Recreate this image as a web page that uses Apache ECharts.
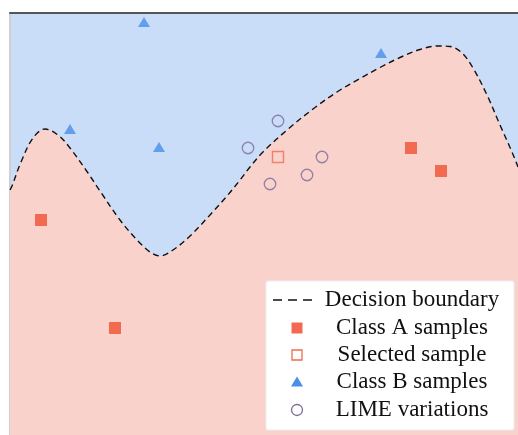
<!DOCTYPE html>
<html>
<head>
<meta charset="utf-8">
<script src="https://cdn.jsdelivr.net/npm/echarts@6/dist/echarts.min.js"></script>
<style>
html,body{margin:0;padding:0;background:#fff;}
#chart{width:518px;height:435px;}
</style>
</head>
<body>
<div id="chart"></div>
<script>
// Decision boundary
const boundaryX = [0, 0.04, 0.22, 0.46, 0.70, 0.96, 1.20, 1.56, 1.80, 2.20, 2.54, 2.80, 3.00, 3.26, 3.60, 4.00, 4.34, 4.60, 4.80, 5.06, 5.54, 6.06, 6.54, 7.00, 7.40, 7.80, 8.20, 8.54, 8.80, 9.04, 9.26, 9.54, 9.80, 10.04, 10.16];
const boundaryY = [4.90, 4.98, 5.46, 5.94, 6.12, 6.00, 5.74, 5.24, 4.88, 4.30, 3.90, 3.66, 3.58, 3.70, 3.98, 4.40, 4.78, 5.10, 5.36, 5.66, 6.10, 6.52, 6.86, 7.13, 7.35, 7.55, 7.71, 7.78, 7.77, 7.64, 7.34, 6.80, 6.20, 5.66, 5.36];

const classAX = [0.62, 2.10, 8.02, 8.62];
const classAY = [4.30, 2.14, 5.74, 5.28];

const selectedX = [5.36];
const selectedY = [5.56];

const classBX = [2.68, 1.20, 2.98, 7.42];
const classBY = [8.26, 6.12, 5.76, 7.64];

const limeX = [4.76, 5.36, 6.24, 5.94, 5.20];
const limeY = [5.74, 6.28, 5.56, 5.20, 5.02];

const legendLabels = ['Decision boundary', 'Class A samples', 'Selected sample', 'Class B samples', 'LIME variations'];

const zip = (xs, ys) => xs.map((x, i) => [x, ys[i]]);

const BLUE_BG = '#c9ddf9';
const PINK = '#f9d2cc';
const RED = '#f26a50';
const BLUE = '#4a8fe7';
const PURPLE = '#7c6b97';

const chart = echarts.init(document.getElementById('chart'), null, {renderer: 'canvas'});

const rowY = [300, 328, 355, 382, 410];
const iconX = 297;
const textX = 412;
const FONT = '23px "Liberation Serif", "Times New Roman", serif';

const graphics = [
  {type: 'rect', z: 100, shape: {x: 266, y: 281, width: 248, height: 149, r: 2}, style: {fill: '#ffffff', stroke: '#eeeeee', lineWidth: 1}},
  {type: 'line', z: 101, shape: {x1: 273, y1: rowY[0], x2: 313, y2: rowY[0]}, style: {stroke: '#111', lineWidth: 1.4, lineDash: [9, 6]}},
  {type: 'rect', z: 101, shape: {x: iconX - 5.5, y: rowY[1] - 5.5, width: 11, height: 11}, style: {fill: RED}},
  {type: 'rect', z: 101, shape: {x: iconX - 5, y: rowY[2] - 5, width: 10, height: 10}, style: {fill: 'none', stroke: RED, lineWidth: 1.3}},
  {type: 'polygon', z: 101, shape: {points: [[iconX, rowY[3] - 5.5], [iconX + 6, rowY[3] + 4.5], [iconX - 6, rowY[3] + 4.5]]}, style: {fill: BLUE}},
  {type: 'circle', z: 101, shape: {cx: iconX, cy: rowY[4], r: 5.5}, style: {fill: 'none', stroke: PURPLE, lineWidth: 1.3}}
];
legendLabels.forEach((t, i) => {
  graphics.push({type: 'text', z: 101, style: {text: t, x: textX, y: rowY[i], font: FONT, fill: '#111', align: 'center', verticalAlign: 'middle'}});
});

chart.setOption({
  animation: false,
  backgroundColor: '#ffffff',
  grid: {left: 10, top: 13, right: 0, bottom: 0, show: true, backgroundColor: BLUE_BG, borderWidth: 0},
  xAxis: {
    type: 'value', min: 0, max: 10.16, position: 'top',
    axisLine: {show: true, onZero: false, lineStyle: {color: '#555', width: 2}},
    axisTick: {show: false}, axisLabel: {show: false}, splitLine: {show: false}
  },
  yAxis: {
    type: 'value', min: 0, max: 8.44,
    axisLine: {show: true, onZero: false, lineStyle: {color: '#d0d0d0', width: 2}},
    axisTick: {show: false}, axisLabel: {show: false}, splitLine: {show: false}
  },
  series: [
    {
      type: 'line', name: legendLabels[0], data: zip(boundaryX, boundaryY),
      smooth: 0.35, showSymbol: false, symbol: 'none', z: 2,
      lineStyle: {color: '#111', width: 1.4, type: [6, 4]},
      areaStyle: {color: PINK, opacity: 1, origin: 'start'}
    },
    {
      type: 'scatter', name: legendLabels[1], data: zip(classAX, classAY), z: 3,
      symbol: 'rect', symbolSize: 12, itemStyle: {color: RED, opacity: 1}
    },
    {
      type: 'scatter', name: legendLabels[2], data: zip(selectedX, selectedY), z: 3,
      symbol: 'rect', symbolSize: 11, itemStyle: {color: 'rgba(0,0,0,0)', borderColor: RED, borderWidth: 1.4}
    },
    {
      type: 'scatter', name: legendLabels[3], data: zip(classBX, classBY), z: 3,
      symbol: 'triangle', symbolSize: [12, 10], itemStyle: {color: BLUE}
    },
    {
      type: 'scatter', name: legendLabels[4], data: zip(limeX, limeY), z: 3,
      symbol: 'circle', symbolSize: 11.5, itemStyle: {color: 'rgba(0,0,0,0)', borderColor: PURPLE, borderWidth: 1.3}
    }
  ],
  graphic: graphics
});
</script>
</body>
</html>
